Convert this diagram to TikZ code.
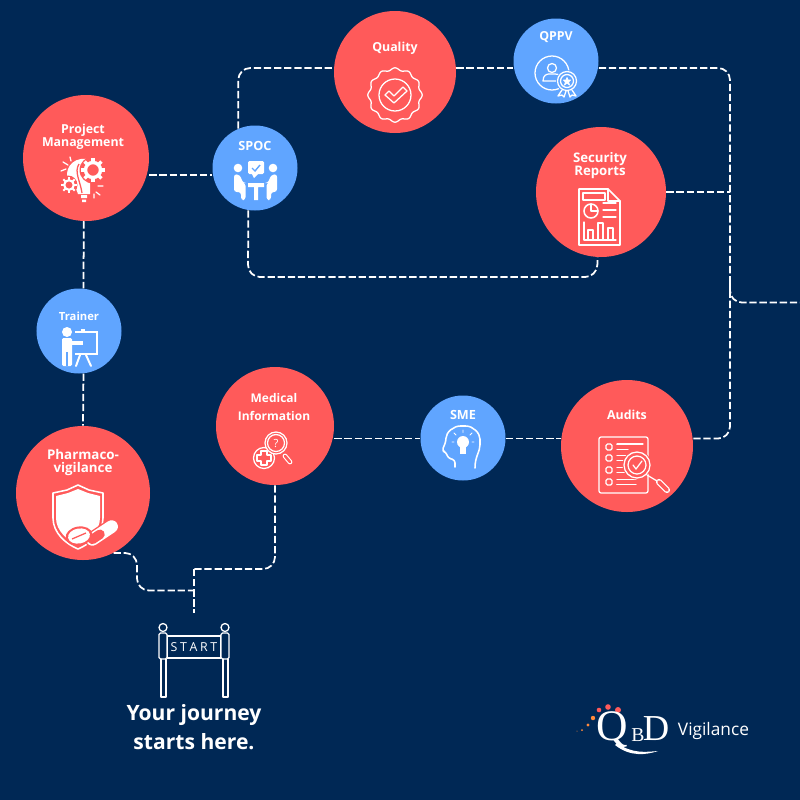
\documentclass[tikz,border=0pt]{standalone}
\usepackage{fontspec}
\setmainfont{Open Sans}
\newfontfamily\logofont{Liberation Serif}
\definecolor{navy}{HTML}{002855}
\definecolor{coral}{HTML}{FF5A5A}
\definecolor{skyblue}{HTML}{60A5FF}
\definecolor{logoorange}{HTML}{FF8A3C}
\tikzset{
  bigstop/.style={circle, fill=coral, draw=none, inner sep=0pt, minimum size=#1*0.25mm},
  smallstop/.style={circle, fill=skyblue, draw=none, inner sep=0pt, minimum size=21.25mm},
  stoplabel/.style={text=white, font=\fontsize{8.8}{9.2}\selectfont\bfseries, align=center, inner sep=0pt},
  route/.style={draw=white, line width=1.25pt, dash pattern=on 5.2pt off 2pt, rounded corners=3mm},
  iconline/.style={draw=white, line width=0.9pt, line join=round, line cap=round}
}
\begin{document}
\begin{tikzpicture}[x=0.25mm, y=-0.25mm]
  \useasboundingbox[fill=navy] (0,0) rectangle (800,800);

  % stops
  \node[bigstop=126] (project) at (86,158) {};
  \node[smallstop] (spoc) at (255,168) {};
  \node[bigstop=122] (quality) at (395,72) {};
  \node[smallstop] (qppv) at (556,61) {};
  \node[bigstop=130] (security) at (601,192) {};
  \node[smallstop] (trainer) at (79,331) {};
  \node[bigstop=118] (medical) at (275,426) {};
  \node[smallstop] (sme) at (463,438) {};
  \node[bigstop=132] (audits) at (627,446) {};
  \node[bigstop=134] (pharma) at (83,493) {};

  % free ends of the routes
  \coordinate (topLine) at (0,68);
  \coordinate (midLine) at (0,438.5);
  \coordinate (exit) at (800,302.5);
  \coordinate (gateJoin) at (194,569);
  \coordinate (startTop) at (194,613);
  \coordinate (auditsEnd) at (730,278);

  % routes
  \draw[route] (project.east |- 0,175) -- (spoc.west |- 0,175);
  \draw[route] (project.-92.7) -- (trainer.84.6);
  \draw[route] (trainer.-84.6) -- (pharma.north);
  \draw[route] (spoc.113.3) |- (quality.west |- topLine);
  \draw[route] (quality.east |- topLine) -- (qppv.west |- topLine);
  \draw[route] (qppv.east |- topLine) -- (730,68) -- (730,302.5) -- (exit);
  \draw[route] (security.east) -- (730,192);
  \draw[route] (spoc.-99.4) -- (248,277) -- (597,277) -- (security.-93.5);
  \draw[route] (audits.east |- midLine) -- (730,438.5) -- (auditsEnd);
  \draw[route] (sme.east |- midLine) -- (audits.west |- midLine);
  \draw[route] (medical.east |- midLine) -- (sme.west |- midLine);
  \draw[route] (medical.-90) -- (275,569) -- (gateJoin);
  \draw[route] (gateJoin) -- (startTop);
  \draw[route] (pharma.-63.4) -- (137,553) -- (137,590.5) -- (194,590.5);

  % labels
  \node[stoplabel] (projectText) at (83,136.5) {Project\\Management};
  \node[stoplabel, font=\fontsize{9}{9}\selectfont\bfseries] (spocText) at (255,146) {SPOC};
  \node[stoplabel] (qualityText) at (395,48) {Quality};
  \node[stoplabel] (qppvText) at (556,37) {QPPV};
  \node[stoplabel, font=\fontsize{9.4}{9.2}\selectfont\bfseries] (securityText) at (600,165.5) {Security\\Reports};
  \node[stoplabel, font=\fontsize{8}{8}\selectfont\bfseries] (trainerText) at (79,316) {Trainer};
  \node[stoplabel, font=\fontsize{8.5}{13.4}\selectfont\bfseries] (medicalText) at (274,407) {Medical\\Information};
  \node[stoplabel, font=\fontsize{9}{9}\selectfont\bfseries] (smeText) at (463,414.5) {SME};
  \node[stoplabel] (auditsText) at (627,414.5) {Audits};
  \node[stoplabel, font=\fontsize{9.5}{9.2}\selectfont\bfseries] (pharmaText) at (83,462.5) {Pharmaco-\\vigilance};

  % project icon: bulb and gears
  \fill[white] (86,159) .. controls (71,157) and (63,172) .. (69,181) .. controls (72,186) and (77,188) .. (78,194) -- (90,194) -- (90,178) -- cycle;
  \draw[coral, line width=0.9pt] (79,164) .. controls (74,172) and (80,180) .. (82,193);
  \fill[coral] (93,170) circle (13.5);
  \foreach \ang in {0,45,...,315} {
    \draw[white, line width=2.4pt, rotate around={\ang:(93,170)}] (93,158) -- (93,162);
  }
  \draw[white, line width=2.4pt] (93,170) circle (7.5);
  \fill[coral] (68,185) circle (9.5);
  \foreach \ang in {0,45,...,315} {
    \draw[white, line width=1.5pt, rotate around={\ang:(69,185)}] (69,177) -- (69,180);
  }
  \draw[white, line width=1.5pt] (69,185) circle (4.8);
  \fill[white] (81,195) rectangle (87,198) (82,199.5) rectangle (86,202);
  \draw[iconline] (63,162) -- (68,165) (70,157) -- (71,161) (61,171) -- (66,169);
  \draw[iconline] (98,186) -- (103,186) (96,192) -- (100,195) (94,194) -- (94,198);

  % spoc icon: two people at a table
  \fill[white] (238,168) circle (4.3) (273,168) circle (4.3);
  \fill[white, rounded corners=1pt] (248,161) rectangle (264,174);
  \fill[white] (252,174) -- (254,178) -- (258,174) -- cycle;
  \draw[skyblue, line width=1pt] (252,168) -- (255,171) -- (260,165);
  \fill[white, rounded corners=2pt] (234,174) -- (240,175) -- (243,183) -- (245.5,183) -- (245.5,200) -- (241,200) -- (241,192) -- (234,192) -- cycle;
  \fill[white, rounded corners=2pt] (277,174) -- (271,175) -- (268,183) -- (266.5,183) -- (266.5,200) -- (271,200) -- (271,192) -- (277,192) -- cycle;
  \fill[white] (248,183) rectangle (264,187) (254,187) rectangle (258,200);

  % quality icon: seal and tick
  \draw[iconline] plot[domain=0:360, samples=145] ({395+(26+1.2*cos(12*\x))*cos(\x)},{95+(26+1.2*cos(12*\x))*sin(\x)}) -- cycle;
  \draw[iconline] (395,95) circle (16);
  \draw[iconline] (385,95) -- (389,91) -- (394,96) -- (403,87) -- (407,91) -- (394,103) -- cycle;

  % qppv icon: person with rosette
  \draw[iconline] (552,73) circle (17);
  \draw[iconline] (552,68) circle (4.5);
  \draw[iconline] (543,81) .. controls (543,75) and (547,74) .. (549,74) -- (555,74) .. controls (559,74) and (562,76) .. (562,81) -- cycle;
  \fill[skyblue] (567,81) circle (11);
  \draw[iconline] (567,81) circle (9.5);
  \draw[iconline] (567,81) circle (6.5);
  \draw[iconline, line width=0.6pt, fill=white] (567,77.5) -- (568,80) -- (570.5,80) -- (568.5,82) -- (569.5,85) -- (567,83) -- (564.5,85) -- (565.5,82) -- (563.5,80) -- (566,80) -- cycle;
  \draw[iconline] (562,90) -- (558,96) -- (562,95) -- (564,97) -- (566,91) (572,90) -- (576,96) -- (572,95) -- (570,97) -- (568,91);

  % security icon: report sheet
  \draw[iconline, line width=1.1pt] (579,189) -- (608,189) -- (620,201) -- (620,245) -- (579,245) -- cycle;
  \draw[iconline, line width=1.1pt] (608,189) -- (608,201) -- (620,201);
  \draw[iconline] (583,193) rectangle (605,200);
  \draw[iconline, line width=1.1pt] (591,211) circle (7);
  \draw[iconline] (591,204) -- (591,211) -- (598,211);
  \draw[iconline] (603,203) -- (616,203) (603,210) -- (616,210) (603,217) -- (616,217);
  \draw[iconline] (584,222) -- (584,240) -- (616,240);
  \draw[iconline] (588,240) -- (588,230) -- (593,230) -- (593,240) (598,240) -- (598,223) -- (603,223) -- (603,240) (608,240) -- (608,228) -- (613,228) -- (613,240);

  % trainer icon: figure at a board
  \fill[white] (67,332) circle (5);
  \fill[white, rounded corners=1pt] (62,338) rectangle (72,366);
  \fill[skyblue] (66.4,352) rectangle (67.6,366);
  \fill[white] (72,341) rectangle (83,345);
  \draw[white, line width=1.4pt] (75,332) -- (97,332) -- (97,354) -- (75,354);
  \draw[white, line width=1.4pt] (81,330) -- (85,330);
  \draw[white, line width=1.4pt, line cap=round] (80,355) -- (76,366) (86,355) -- (91,366);

  % medical icon: cross and magnifier
  \draw[iconline] (264,458) circle (10.5);
  \draw[iconline] (261,451) -- (267,451) -- (267,455) -- (271,455) -- (271,461) -- (267,461) -- (267,465) -- (261,465) -- (261,461) -- (257,461) -- (257,455) -- (261,455) -- cycle;
  \fill[coral] (276,443) circle (11);
  \draw[iconline] (276,443) circle (11);
  \draw[iconline] (276,443) circle (8.5);
  \draw[white, line width=3.4pt, line cap=round] (285,456) -- (290,462);
  \draw[coral, line width=1.8pt, line cap=round] (285,456) -- (290,462);
  \node[text=white, font=\fontsize{8}{8}\selectfont, inner sep=0pt] (medicalMark) at (276,443) {?};

  % sme icon: head with bulb
  \draw[iconline, line width=1.1pt, rounded corners=2pt] (455,467) -- (455,460) -- (448,458) -- (446,452) -- (442,451) -- (446,441) .. controls (446,432) and (454,426) .. (463,426) .. controls (473,426) and (480,433) .. (480,442) .. controls (480,452) and (475,456) .. (475,468);
  \fill[white] (463,442) circle (6);
  \fill[white] (460,447) rectangle (466,454);
  \draw[iconline, line width=0.6pt] (463,430) -- (463,432.5) (454,433) -- (456,435) (472,433) -- (470,435) (452,442) -- (454,442) (474,442) -- (472,442);

  % audits icon: checklist and magnifier
  \draw[iconline, rounded corners=1.5pt] (599,437) rectangle (648,493);
  \foreach \ypos in {447,458,470,482} {
    \draw[iconline, rounded corners=1pt] (606,\ypos-3) rectangle (612,\ypos+3);
    \draw[iconline] (617,\ypos-2.5) -- (636,\ypos-2.5) (617,\ypos+2.5) -- (628,\ypos+2.5);
  }
  \draw[iconline] (617,444) -- (643,444) (617,484.5) -- (636,484.5);
  \fill[coral] (637,465) circle (14.5);
  \draw[iconline] (637,465) circle (13);
  \draw[iconline] (637,465) circle (9);
  \draw[iconline] (633,465) -- (636,469) -- (642,461);
  \draw[iconline] (647,475) -- (657,481);
  \draw[white, line width=4.4pt, line cap=round] (659,482) -- (667,490);
  \draw[coral, line width=2.6pt, line cap=round] (659,482) -- (667,490);

  % pharma icon: shield and pills
  \draw[iconline, line width=1.1pt] (78,485) -- (89,490) -- (103,493) -- (103,518) .. controls (103,533) and (90,544) .. (78,549) .. controls (66,544) and (53,533) .. (53,518) -- (53,493) -- (67,490) -- cycle;
  \fill[white] (78,489) -- (88,493) -- (100,496) -- (100,518) .. controls (100,531) and (88,541) .. (78,545) .. controls (68,541) and (56,531) .. (56,518) -- (56,496) -- (68,493) -- cycle;
  \draw[coral, line width=11pt, line cap=round] (92.4,539.4) -- (111.6,526.6);
  \draw[white, line width=9pt, line cap=round] (92.4,539.4) -- (111.6,526.6);
  \draw[coral, line width=6.8pt, line cap=round] (92.4,539.4) -- (100,534.3);
  \fill[coral, rotate around={10:(79,536)}] (79,536) ellipse (13.5 and 9.5);
  \fill[white, rotate around={10:(79,536)}] (79,536) ellipse (11 and 7.5);
  \draw[coral, line width=0.9pt] (72,539) -- (86,533);

  % start gate
  \node[draw=white, line width=0.8pt, minimum width=38.3pt, minimum height=15.6pt, inner sep=0pt, text=white, font=\fontsize{8.8}{8.8}\selectfont] (startSign) at (194,647) {S\kern1.9pt T\kern1.9pt A\kern1.9pt R\kern1.9pt T};
  \draw[iconline, rounded corners=1pt] (159,633) rectangle (167,659);
  \draw[iconline, rounded corners=1pt] (221,633) rectangle (229,659);
  \draw[iconline] (161,659) -- (161,697) -- (166,697) -- (166,659);
  \draw[iconline] (223,659) -- (223,697) -- (228,697) -- (228,659);
  \draw[iconline] (163,627.5) circle (4);
  \draw[iconline] (225,627.5) circle (4);

  \node[text=white, font=\fontsize{15}{20.5}\selectfont\bfseries, align=center, inner sep=0pt] (journey) at (194,727) {Your journey\\starts here.};

  % logo
  \fill[coral] (599,710) circle (2.3) (608,707) circle (2.8) (618,710) circle (3);
  \fill[logoorange] (593,718) circle (2.2) (588,725) circle (1.7) (582,730) circle (1) (577,731) circle (0.5);
  \node[text=white, font=\logofont\fontsize{31}{31}\selectfont, inner sep=0pt] (logoQ) at (612,730) {Q};
  \node[text=white, font=\logofont\fontsize{14}{14}\selectfont, inner sep=0pt] (logoB) at (638,735) {B};
  \node[text=white, font=\logofont\fontsize{26}{26}\selectfont, inner sep=0pt] (logoD) at (656,729) {D};
  \fill[white] (617,743) .. controls (632,754) and (646,752) .. (658,751) .. controls (646,755) and (630,757) .. (615,745) -- cycle;
  \node[text=white, font=\fontsize{12.3}{12.3}\selectfont, inner sep=0pt] (logoName) at (713.5,731) {Vigilance};
\end{tikzpicture}
\end{document}
